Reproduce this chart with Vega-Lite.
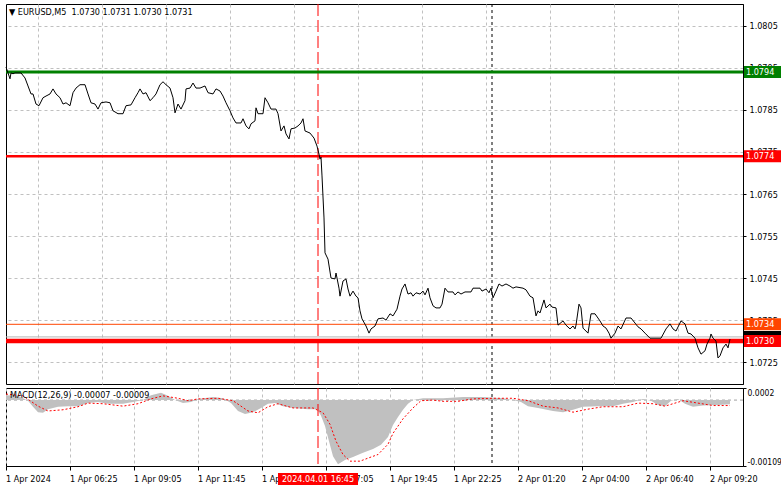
{
"$schema":"https://vega.github.io/schema/vega-lite/v6.json",
"background":"white",
"padding":{"left":3,"top":3,"right":0,"bottom":0},
"spacing":2,
"config":{
 "font":"DejaVu Sans Condensed, DejaVu Sans",
 "view":{"stroke":"#000000","strokeWidth":1},
 "axis":{"labelFont":"DejaVu Sans Condensed, DejaVu Sans","labelFontSize":9,"labelColor":"#000000","domainColor":"#000000","tickColor":"#000000","gridColor":"#c0c0c0","gridDash":[3,3],"gridOpacity":1,"labelFlush":false},
 "text":{"font":"DejaVu Sans Condensed, DejaVu Sans","fontSize":9}
},
"datasets":{
 "one":[{}],
 "price":[
{"i":0,"p":1.07952},{"i":2,"p":1.07924},{"i":2.5,"p":1.07938},{"i":3.5,"p":1.07936},{"i":4.5,"p":1.07938},{"i":6,"p":1.07938},{"i":7.5,"p":1.07938},{"i":9.5,"p":1.07926},{"i":11,"p":1.07907},{"i":12.5,"p":1.07888},{"i":13.5,"p":1.07888},{"i":15,"p":1.07864},{"i":16.5,"p":1.0786},{"i":18.5,"p":1.07879},{"i":20,"p":1.07883},{"i":22,"p":1.07888},{"i":23.5,"p":1.079},{"i":25,"p":1.07888},{"i":27,"p":1.07879},{"i":28.5,"p":1.07864},{"i":30,"p":1.07867},{"i":32,"p":1.0786},{"i":33.5,"p":1.07891},{"i":35,"p":1.07902},{"i":37,"p":1.0791},{"i":39.5,"p":1.0791},{"i":41,"p":1.07888},{"i":42.5,"p":1.07867},{"i":44.5,"p":1.07864},{"i":46,"p":1.07852},{"i":47.5,"p":1.07867},{"i":50,"p":1.07869},{"i":52,"p":1.07867},{"i":53.5,"p":1.07848},{"i":56,"p":1.07841},{"i":58.5,"p":1.07841},{"i":60,"p":1.0786},{"i":62.5,"p":1.07862},{"i":64.5,"p":1.07879},{"i":66,"p":1.07891},{"i":67,"p":1.079},{"i":68.5,"p":1.07888},{"i":70,"p":1.07891},{"i":72,"p":1.07872},{"i":73.5,"p":1.07879},{"i":75,"p":1.07888},{"i":77,"p":1.0791},{"i":78.5,"p":1.07917},{"i":80,"p":1.0791},{"i":82,"p":1.07902},{"i":83.5,"p":1.07879},{"i":84.5,"p":1.07843},{"i":86,"p":1.07864},{"i":87.5,"p":1.07852},{"i":89.5,"p":1.07872},{"i":90,"p":1.079},{"i":92,"p":1.07902},{"i":93.5,"p":1.07914},{"i":95,"p":1.07902},{"i":97,"p":1.07902},{"i":99.5,"p":1.07907},{"i":101,"p":1.07891},{"i":103.5,"p":1.07888},{"i":105,"p":1.079},{"i":107,"p":1.07895},{"i":108.5,"p":1.07883},{"i":110,"p":1.07867},{"i":112,"p":1.07848},{"i":113.5,"p":1.07831},{"i":115,"p":1.07819},{"i":117.5,"p":1.07819},{"i":118.5,"p":1.07829},{"i":120,"p":1.07812},{"i":121.5,"p":1.07805},{"i":122.5,"p":1.07817},{"i":124.5,"p":1.07824},{"i":125,"p":1.07855},{"i":126,"p":1.07841},{"i":128.5,"p":1.07841},{"i":129.5,"p":1.07879},{"i":131,"p":1.07867},{"i":132.5,"p":1.07852},{"i":135,"p":1.07852},{"i":136,"p":1.07841},{"i":137.5,"p":1.078},{"i":139,"p":1.07812},{"i":140,"p":1.07793},{"i":141.5,"p":1.07781},{"i":142.5,"p":1.07805},{"i":144.5,"p":1.07807},{"i":146,"p":1.07812},{"i":147.5,"p":1.07819},{"i":148.5,"p":1.07829},{"i":149.5,"p":1.078},{"i":152,"p":1.07795},{"i":154,"p":1.07783},{"i":155.5,"p":1.07764},{"i":156.5,"p":1.07745},{"i":157,"p":1.07733},{"i":157.5,"p":1.07738},{"i":158,"p":1.07693},{"i":159,"p":1.07593},{"i":159.5,"p":1.0751},{"i":161,"p":1.07495},{"i":162.5,"p":1.0745},{"i":164.5,"p":1.07448},{"i":165,"p":1.07462},{"i":166.5,"p":1.07426},{"i":167,"p":1.07407},{"i":168.5,"p":1.07443},{"i":170,"p":1.07448},{"i":171,"p":1.07424},{"i":172,"p":1.07407},{"i":173.5,"p":1.07419},{"i":175,"p":1.07407},{"i":176,"p":1.07403},{"i":177,"p":1.07372},{"i":178,"p":1.07353},{"i":180,"p":1.07336},{"i":181.5,"p":1.07319},{"i":182.5,"p":1.07329},{"i":184.5,"p":1.07336},{"i":186,"p":1.07353},{"i":188.5,"p":1.07355},{"i":190,"p":1.0735},{"i":192,"p":1.07365},{"i":193.5,"p":1.0736},{"i":195.5,"p":1.07376},{"i":197,"p":1.07407},{"i":198,"p":1.07424},{"i":199.5,"p":1.07436},{"i":201,"p":1.07412},{"i":202.5,"p":1.07415},{"i":203.5,"p":1.07407},{"i":205,"p":1.07415},{"i":207,"p":1.07412},{"i":208.5,"p":1.07419},{"i":209.5,"p":1.0741},{"i":211,"p":1.07426},{"i":212,"p":1.07403},{"i":213.5,"p":1.07384},{"i":215,"p":1.07379},{"i":217,"p":1.07379},{"i":218,"p":1.07388},{"i":219.5,"p":1.07426},{"i":221,"p":1.07417},{"i":223.5,"p":1.07417},{"i":224.5,"p":1.0741},{"i":226,"p":1.07417},{"i":227.5,"p":1.07412},{"i":229.5,"p":1.07417},{"i":232.5,"p":1.07417},{"i":233.5,"p":1.07426},{"i":237,"p":1.07426},{"i":238,"p":1.07419},{"i":240,"p":1.07424},{"i":241.5,"p":1.07415},{"i":242.5,"p":1.07426},{"i":243.5,"p":1.07403},{"i":245,"p":1.07419},{"i":246.5,"p":1.07436},{"i":248,"p":1.07431},{"i":250,"p":1.07436},{"i":252,"p":1.07431},{"i":253.5,"p":1.07426},{"i":255,"p":1.07429},{"i":258.5,"p":1.07426},{"i":260,"p":1.07422},{"i":262,"p":1.07407},{"i":263.5,"p":1.07403},{"i":265,"p":1.0736},{"i":266,"p":1.07372},{"i":267,"p":1.07367},{"i":269,"p":1.07398},{"i":270,"p":1.07379},{"i":272,"p":1.07388},{"i":273,"p":1.07381},{"i":275,"p":1.07379},{"i":276,"p":1.07338},{"i":278.5,"p":1.07348},{"i":280,"p":1.07338},{"i":282,"p":1.07329},{"i":283.5,"p":1.07336},{"i":284.5,"p":1.07329},{"i":285,"p":1.07338},{"i":286.5,"p":1.07388},{"i":287.5,"p":1.07379},{"i":288.5,"p":1.07331},{"i":291,"p":1.07319},{"i":292.5,"p":1.07365},{"i":294.5,"p":1.07365},{"i":297,"p":1.07348},{"i":298.5,"p":1.07336},{"i":300,"p":1.07331},{"i":301.5,"p":1.07319},{"i":302.5,"p":1.07307},{"i":304.5,"p":1.07319},{"i":306,"p":1.07336},{"i":307.5,"p":1.07329},{"i":310,"p":1.07355},{"i":312.5,"p":1.07355},{"i":314.5,"p":1.07343},{"i":316,"p":1.07334},{"i":317.5,"p":1.07329},{"i":319.5,"p":1.07319},{"i":322,"p":1.07307},{"i":325,"p":1.07307},{"i":327.5,"p":1.07307},{"i":330,"p":1.07329},{"i":332,"p":1.07341},{"i":333.5,"p":1.07329},{"i":335,"p":1.07324},{"i":337.5,"p":1.07348},{"i":339.5,"p":1.07341},{"i":341,"p":1.07319},{"i":342.5,"p":1.07317},{"i":344.5,"p":1.07307},{"i":346,"p":1.07284},{"i":347.5,"p":1.07269},{"i":349.5,"p":1.07277},{"i":350.5,"p":1.07293},{"i":352,"p":1.07307},{"i":352.5,"p":1.07317},{"i":353.5,"p":1.07307},{"i":355,"p":1.073},{"i":356,"p":1.0726},{"i":357,"p":1.07265},{"i":358.5,"p":1.07284},{"i":360,"p":1.07293},{"i":361,"p":1.07284},{"i":362,"p":1.07305}
 ],
 "hist":[
{"i":0,"v":0.00008},{"i":6,"v":0.00007},{"i":11,"v":-0.00001},{"i":13.5,"v":-0.00011},{"i":16,"v":-0.0002},{"i":18.5,"v":-0.00021},{"i":21,"v":-0.00015},{"i":26,"v":-0.00011},{"i":31,"v":-0.0001},{"i":36,"v":-0.0001},{"i":41,"v":-0.00005},{"i":46,"v":-0.00003},{"i":51,"v":-0.00006},{"i":58.5,"v":-0.00006},{"i":63.5,"v":-0.00003},{"i":68.5,"v":0},{"i":72.5,"v":0.00008},{"i":77.5,"v":0.00012},{"i":81,"v":0.00007},{"i":84.5,"v":0},{"i":88.5,"v":-0.00005},{"i":92.5,"v":-0.00003},{"i":96,"v":0.00002},{"i":103.5,"v":0.00005},{"i":108.5,"v":0.00003},{"i":112.5,"v":-0.00005},{"i":116,"v":-0.00018},{"i":119.5,"v":-0.00023},{"i":123.5,"v":-0.0002},{"i":127.5,"v":-0.00013},{"i":131,"v":-0.00006},{"i":134.5,"v":-0.00005},{"i":138.5,"v":-0.0001},{"i":143.5,"v":-0.00013},{"i":151,"v":-0.00015},{"i":155.5,"v":-0.00015},{"i":157.5,"v":-0.00026},{"i":159.5,"v":-0.00043},{"i":161.5,"v":-0.00068},{"i":163.5,"v":-0.00093},{"i":166,"v":-0.00106},{"i":169.5,"v":-0.00099},{"i":173.5,"v":-0.00094},{"i":178.5,"v":-0.00087},{"i":183.5,"v":-0.00081},{"i":187.5,"v":-0.00074},{"i":191,"v":-0.00061},{"i":193.5,"v":-0.00041},{"i":196,"v":-0.00028},{"i":198.5,"v":-0.00016},{"i":201,"v":-0.00006},{"i":203.5,"v":0},{"i":208.5,"v":0.00003},{"i":218.5,"v":0.00003},{"i":228.5,"v":0.00005},{"i":238.5,"v":0.00005},{"i":248.5,"v":0.00003},{"i":253.5,"v":0},{"i":257.5,"v":-0.00003},{"i":261,"v":-0.0001},{"i":266,"v":-0.00013},{"i":273.5,"v":-0.00018},{"i":278.5,"v":-0.0002},{"i":283.5,"v":-0.00016},{"i":288.5,"v":-0.00011},{"i":296,"v":-0.0001},{"i":303.5,"v":-0.0001},{"i":308.5,"v":-0.00006},{"i":313.5,"v":-0.00003},{"i":318.5,"v":0.00002},{"i":322.5,"v":-0.00001},{"i":326,"v":-0.00008},{"i":329.5,"v":-0.0001},{"i":332.5,"v":-0.00001},{"i":336,"v":0.00002},{"i":339.5,"v":-0.00006},{"i":343.5,"v":-0.00011},{"i":348.5,"v":-0.00009},{"i":356,"v":-0.00008},{"i":362,"v":-0.00007}
 ],
 "signal":[
{"i":0,"v":0.0001},{"i":8.5,"v":0.00007},{"i":16,"v":-0.0001},{"i":21,"v":-0.00018},{"i":28.5,"v":-0.00016},{"i":36,"v":-0.00011},{"i":41,"v":-0.00005},{"i":48.5,"v":-0.00006},{"i":58.5,"v":-0.0001},{"i":66,"v":-0.00006},{"i":72.5,"v":0.00002},{"i":78.5,"v":0.00007},{"i":86,"v":0.00003},{"i":91,"v":-0.00001},{"i":96,"v":0.00002},{"i":106,"v":0.00003},{"i":113.5,"v":-0.00001},{"i":121,"v":-0.00018},{"i":126,"v":-0.00021},{"i":131,"v":-0.00011},{"i":136,"v":-0.00006},{"i":143.5,"v":-0.00013},{"i":153.5,"v":-0.00013},{"i":158.5,"v":-0.00021},{"i":162,"v":-0.0004},{"i":165,"v":-0.00068},{"i":168.5,"v":-0.0009},{"i":172,"v":-0.00101},{"i":177,"v":-0.00101},{"i":181,"v":-0.00096},{"i":186,"v":-0.0009},{"i":191,"v":-0.00073},{"i":193.5,"v":-0.00055},{"i":198.5,"v":-0.00031},{"i":203.5,"v":-0.00013},{"i":207.5,"v":-0.00001},{"i":213.5,"v":0},{"i":218.5,"v":-0.00002},{"i":226,"v":-0.00002},{"i":233.5,"v":0.00002},{"i":243.5,"v":0.00003},{"i":253.5,"v":0.00003},{"i":261,"v":-0.00001},{"i":268.5,"v":-0.0001},{"i":276,"v":-0.00013},{"i":283.5,"v":-0.0002},{"i":291,"v":-0.00015},{"i":298.5,"v":-0.00011},{"i":308.5,"v":-0.00011},{"i":316,"v":-0.00005},{"i":323.5,"v":-0.00006},{"i":329.5,"v":-0.0001},{"i":338.5,"v":-0.00001},{"i":346,"v":-0.00005},{"i":353.5,"v":-0.00009},{"i":362,"v":-0.00009}
 ],
 "levels":[
{"kind":"L1","p":1.0794},{"kind":"L2","p":1.0774},{"kind":"L3","p":1.0734},{"kind":"bid","p":1.0731},{"kind":"L4","p":1.073}
 ],
 "xlabels":[
{"i":0,"label":"1 Apr 2024"},{"i":32,"label":"1 Apr 06:25"},{"i":64,"label":"1 Apr 09:05"},{"i":96,"label":"1 Apr 11:45"},{"i":128,"label":"1 Apr 14:25"},{"i":160,"label":"1 Apr 17:05"},{"i":192,"label":"1 Apr 19:45"},{"i":224,"label":"1 Apr 22:25"},{"i":256,"label":"2 Apr 01:20"},{"i":288,"label":"2 Apr 04:00"},{"i":320,"label":"2 Apr 06:40"},{"i":352,"label":"2 Apr 09:20"}
 ]
},
"vconcat":[
 {
  "width":737,"height":380,
  "layer":[
   {"data":{"name":"one"},"mark":{"type":"rule","color":"#ff0000","strokeDash":[12,4],"strokeWidth":1},"encoding":{"x":{"datum":156}}},
   {"data":{"name":"one"},"mark":{"type":"rule","color":"#000000","strokeDash":[3,3],"strokeWidth":1},"encoding":{"x":{"datum":243}}},
   {"data":{"name":"levels"},"transform":[{"filter":"datum.kind === 'L1'"}],"mark":{"type":"rule","color":"#008000","strokeWidth":3},"encoding":{"y":{"field":"p","type":"quantitative"}}},
   {"data":{"name":"levels"},"transform":[{"filter":"datum.kind === 'L2'"}],"mark":{"type":"rule","color":"#ff0000","strokeWidth":2.5},"encoding":{"y":{"field":"p","type":"quantitative"}}},
   {"data":{"name":"levels"},"transform":[{"filter":"datum.kind === 'L3'"}],"mark":{"type":"rule","color":"#ff4500","strokeWidth":1},"encoding":{"y":{"field":"p","type":"quantitative"}}},
   {"data":{"name":"levels"},"transform":[{"filter":"datum.kind === 'bid'"}],"mark":{"type":"rule","color":"#b4b4b4","strokeWidth":1},"encoding":{"y":{"field":"p","type":"quantitative"}}},
   {"data":{"name":"levels"},"transform":[{"filter":"datum.kind === 'L4'"}],"mark":{"type":"rule","color":"#ff0000","strokeWidth":4.5},"encoding":{"y":{"field":"p","type":"quantitative"}}},
   {"data":{"name":"price"},"mark":{"type":"line","color":"#000000","strokeWidth":1},"encoding":{
     "x":{"field":"i","type":"quantitative","title":null,"scale":{"domain":[0,368.5],"nice":false,"zero":false},
          "axis":{"orient":"bottom","labels":false,"ticks":false,"domain":false,"grid":true,"values":[16,32,48,64,80,96,112,128,144,160,176,192,208,224,240,256,272,288,304,320,336,352]}},
     "y":{"field":"p","type":"quantitative","title":null,"scale":{"domain":[1.07198,1.08102],"nice":false,"zero":false},
          "axis":{"orient":"right","values":[1.0725,1.0735,1.0745,1.0755,1.0765,1.0775,1.0785,1.0795,1.0805],"format":".4f","tickSize":3,"labelPadding":3,"grid":true,"domain":true,"labelOverlap":false}}}},
   {"data":{"name":"levels"},"mark":{"type":"tick","orient":"horizontal","size":38,"thickness":12,"opacity":1},"encoding":{
     "x":{"datum":378.5},
     "y":{"field":"p","type":"quantitative"},
     "fill":{"field":"kind","type":"nominal","scale":{"domain":["L1","L2","L3","bid","L4"],"range":["#008000","#ff0000","#ff4500","#000000","#ff0000"]},"legend":null}}},
   {"data":{"name":"levels"},"transform":[{"filter":"datum.kind !== 'bid'"}],"mark":{"type":"text","align":"left","baseline":"middle","color":"#ffffff"},"encoding":{
     "x":{"datum":370},
     "y":{"field":"p","type":"quantitative"},
     "text":{"field":"p","type":"quantitative","format":".4f"}}},
   {"data":{"name":"one"},"mark":{"type":"text","align":"left","baseline":"top","dy":4,"color":"#000000"},"encoding":{
     "x":{"datum":1.5},"y":{"datum":1.08102},
     "text":{"value":"▼ EURUSD,M5 \u00a01.0730 1.0731 1.0730 1.0731"}}}
  ]
 },
 {
  "width":737,"height":78,
  "layer":[
   {"data":{"name":"one"},"mark":{"type":"rule","color":"#a0a0a0","strokeDash":[3,3]},"encoding":{"y":{"datum":0}}},
   {"data":{"name":"hist"},"mark":{"type":"area","color":"#c0c0c0","opacity":1},"encoding":{
     "x":{"field":"i","type":"quantitative","title":null,"scale":{"domain":[0,368.5],"nice":false,"zero":false},
          "axis":{"orient":"bottom","labels":false,"domain":false,"grid":true,"tickSize":4,"values":[0,16,32,48,64,80,96,112,128,144,160,176,192,208,224,240,256,272,288,304,320,336,352],
                  "tickOpacity":{"condition":{"test":"datum.value % 32 === 0","value":1},"value":0}}},
     "y":{"field":"v","type":"quantitative","title":null,"scale":{"domain":[-0.00109,0.0002],"nice":false,"zero":false},
          "axis":{"orient":"right","values":[0.0002,0,-0.00109],"labelExpr":"datum.value > 0.0001 ? '0.0002' : (datum.value < -0.0001 ? '-0.00109' : '0.00')","labelFlush":true,"labelOverlap":false,"labelFontSize":8.5,"tickSize":3,"labelPadding":1,"grid":false}},
     "y2":{"datum":0}}},
   {"data":{"name":"one"},"mark":{"type":"rule","color":"#ff0000","strokeDash":[12,4],"strokeWidth":1},"encoding":{"x":{"datum":156}}},
   {"data":{"name":"one"},"mark":{"type":"rule","color":"#000000","strokeDash":[3,3],"strokeWidth":1},"encoding":{"x":{"datum":243}}},
   {"data":{"name":"signal"},"mark":{"type":"line","color":"#ff0000","strokeWidth":1,"strokeDash":[2,2]},"encoding":{
     "x":{"field":"i","type":"quantitative"},
     "y":{"field":"v","type":"quantitative"}}},
   {"data":{"name":"one"},"mark":{"type":"text","align":"left","baseline":"top","dy":3,"color":"#000000"},"encoding":{
     "x":{"datum":2},"y":{"datum":0.0002},
     "text":{"value":"MACD(12,26,9) -0.00007 -0.00009"}}}
  ]
 },
 {
  "width":737,"height":12,
  "view":{"stroke":null},
  "layer":[
   {"data":{"name":"xlabels"},"mark":{"type":"text","align":"left","baseline":"middle","color":"#000000"},"encoding":{
     "x":{"field":"i","type":"quantitative","scale":{"domain":[0,368.5],"nice":false,"zero":false},"axis":null},
     "text":{"field":"label"}}},
   {"data":{"name":"one"},"mark":{"type":"rect","color":"#ff0000"},"encoding":{"x":{"datum":136,"axis":null},"x2":{"datum":176}}},
   {"data":{"name":"one"},"mark":{"type":"text","align":"center","baseline":"middle","color":"#ffffff"},"encoding":{
     "x":{"datum":156,"axis":null},
     "text":{"value":"2024.04.01 16:45"}}}
  ]
 }
]
}
